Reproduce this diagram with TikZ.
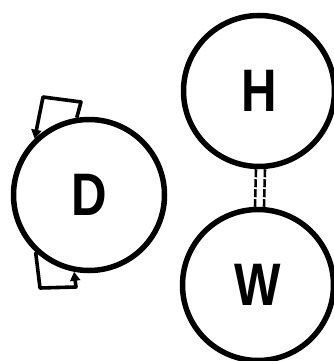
\documentclass[tikz,border=0pt]{standalone}
\usepackage{fontspec}
\setmainfont{Liberation Sans}
\usetikzlibrary{arrows.meta,calc}
\tikzset{
  state/.style={circle, draw, line width=5.5pt, minimum size=151pt, inner sep=0pt,
    font=\bfseries\fontsize{60}{60}\selectfont},
  loopline/.style={line width=3.6pt, line join=round, -{Triangle[length=9pt,width=10pt]}},
  link/.style={line width=2.6pt, dash pattern=on 8pt off 2pt}
}
\newcommand{\narrow}[1]{\scalebox{0.82}[1]{#1}}
\begin{document}
\begin{tikzpicture}[x=1pt,y=-1pt]
\useasboundingbox (0,0) rectangle (333,361);
\node[state] (H) at (259,91) {\narrow{H}};
\node[state] (W) at (258,285) {\narrow{W}};
\node[state] (D) at (89,195) {\narrow{D}};
\draw[link] ($(H.south)+(-3,0)$) -- ($(W.north)+(-3,0)$);
\draw[link] ($(H.south)+(6,0)$) -- ($(W.north)+(6,0)$);
\coordinate (t1) at (43,97);
\coordinate (t2) at (81,102);
\coordinate (b1) at (40,288);
\coordinate (b2) at (76,287);
\draw[loopline] (D.99) -- (t2) -- (t1) -- (D.134);
\draw[loopline] (D.227) -- (b1) -- (b2) -- (D.259);
\end{tikzpicture}
\end{document}
